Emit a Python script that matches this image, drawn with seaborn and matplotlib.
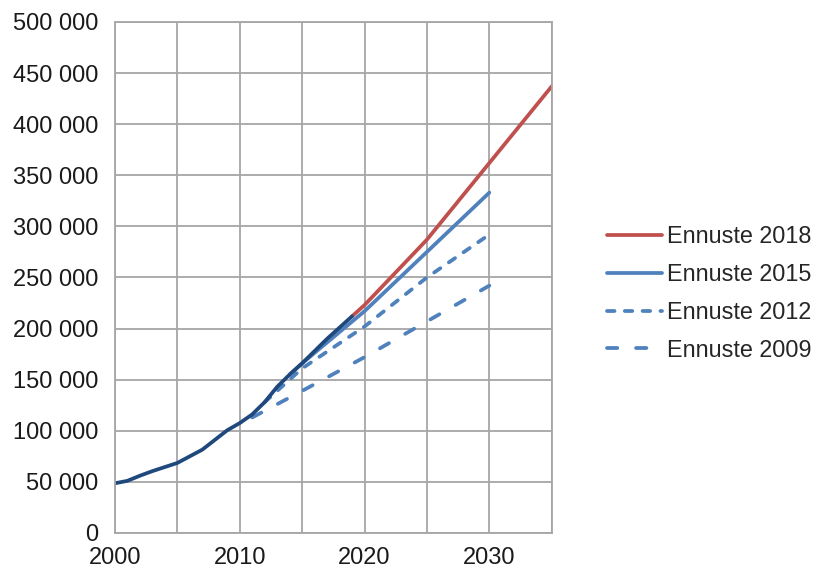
import pandas as pd
import seaborn as sns
import matplotlib.pyplot as plt
from matplotlib.ticker import FuncFormatter, MultipleLocator

# Observed values
hist_years = [2000, 2001, 2002, 2003, 2004, 2005, 2006, 2007, 2008, 2009,
              2010, 2011, 2012, 2013, 2014, 2015, 2016, 2017, 2018, 2019]
hist_values = [48600, 51000, 56000, 60500, 64500, 68500, 75000, 81500, 91000, 100500,
               107500, 116000, 128000, 143000, 155000, 166000, 178000, 190000, 201000, 212000]

# Forecasts
f2018_years = [2019, 2020, 2025, 2030, 2035]
f2018_values = [212000, 223000, 287000, 362000, 437000]

f2015_years = [2014, 2015, 2020, 2025, 2030]
f2015_values = [155000, 166000, 217000, 275000, 333000]

f2012_years = [2012, 2015, 2020, 2025, 2030]
f2012_values = [128000, 161000, 202000, 250000, 292000]

f2009_years = [2011, 2015, 2020, 2025, 2030]
f2009_values = [113000, 139000, 172000, 207000, 242000]

labels = ['Ennuste 2018', 'Ennuste 2015', 'Ennuste 2012', 'Ennuste 2009']

red = '#C0504D'
blue = '#4F81BD'
navy = '#1F497D'


def create_chart():
    sns.set_style('white')
    plt.rcParams['font.family'] = ['Liberation Sans', 'DejaVu Sans']

    fig = plt.figure(figsize=(8.15, 5.71), dpi=100)
    ax = fig.add_axes([0.141, 0.0666, 0.536, 0.895])

    lw = 2.7
    series = [
        (f2009_years, f2009_values, blue, (2.75, 5)),
        (f2012_years, f2012_values, blue, (2, 2.75)),
        (f2015_years, f2015_values, blue, None),
        (f2018_years, f2018_values, red, None),
    ]
    handles = []
    for years, values, color, dash in series:
        sns.lineplot(x=years, y=values, ax=ax, color=color, linewidth=lw)
        line = ax.lines[-1]
        if dash is not None:
            line.set_dashes(dash)
            line.set_dash_capstyle('round')
        handles.append(line)

    sns.lineplot(x=hist_years, y=hist_values, ax=ax, color=navy, linewidth=lw)

    ax.set_xlim(2000, 2035)
    ax.set_ylim(0, 500000)
    ax.xaxis.set_major_locator(MultipleLocator(10))
    ax.xaxis.set_minor_locator(MultipleLocator(5))
    ax.yaxis.set_major_locator(MultipleLocator(50000))
    ax.yaxis.set_major_formatter(FuncFormatter(lambda v, p: f'{int(v):,}'.replace(',', ' ')))

    ax.grid(True, which='both', color='#A6A6A6', linewidth=1.3)
    ax.set_axisbelow(True)
    for s in ax.spines.values():
        s.set_color('#A6A6A6')
        s.set_linewidth(1.3)
    ax.tick_params(axis='both', which='both', length=0, labelsize=17, colors='#1A1A1A')
    ax.tick_params(axis='x', pad=10)
    ax.tick_params(axis='y', pad=12)
    ax.set_xlabel('')
    ax.set_ylabel('')

    ax.legend(handles[::-1], labels, loc='center left', bbox_to_anchor=(0.745, 0.486),
              bbox_transform=fig.transFigure, frameon=False, fontsize=16.8,
              borderpad=0, borderaxespad=0, handlelength=2.35, handletextpad=0.2,
              labelspacing=0.63)

    fig.savefig('out.png', dpi=100)


if __name__ == '__main__':
    create_chart()
